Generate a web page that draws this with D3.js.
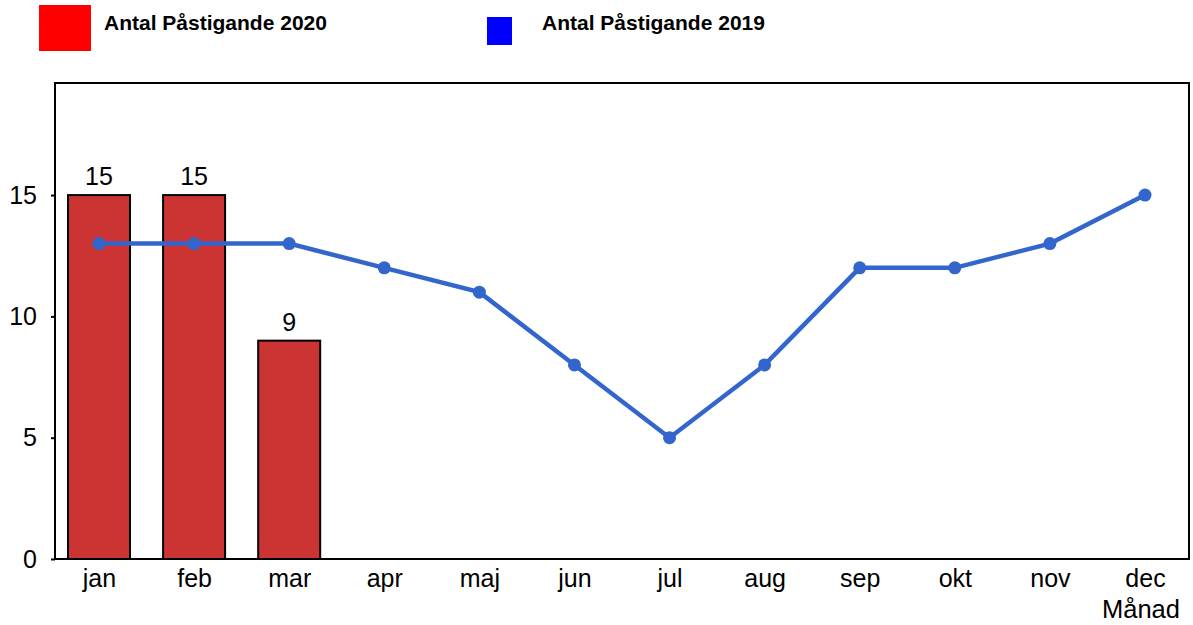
<!DOCTYPE html>
<html>
<head>
<meta charset="utf-8">
<script src="https://cdn.jsdelivr.net/npm/d3@7"></script>
<style>
html,body{margin:0;padding:0;background:#fff;}
svg{display:block;font-family:"Liberation Sans",Arial,sans-serif;}
</style>
</head>
<body>
<svg id="chart" width="1193" height="625"></svg>
<script>
const months = ["jan","feb","mar","apr","maj","jun","jul","aug","sep","okt","nov","dec"];
const values2020 = [15, 15, 9];
const values2019 = [13, 13, 13, 12, 11, 8, 5, 8, 12, 12, 13, 15];
const yTicks = [0, 5, 10, 15];
const seriesNames = ["Antal Påstigande 2020", "Antal Påstigande 2019"];
const xTitle = "Månad";

const svg = d3.select("#chart");
const frame = {left: 55, right: 1189, top: 83, bottom: 559};

const x = d3.scalePoint().domain(months).range([99, 1145]);
const y = d3.scaleLinear().domain([0, 19.62]).range([frame.bottom, frame.top]);
const barW = 62;

// frame
svg.append("rect")
  .attr("x", frame.left).attr("y", frame.top)
  .attr("width", frame.right - frame.left).attr("height", frame.bottom - frame.top)
  .attr("fill", "none").attr("stroke", "#000").attr("stroke-width", 2);

// y axis
const yAxis = d3.axisLeft(y).tickValues(yTicks).tickSize(4).tickPadding(14).tickFormat(d3.format("d"));
const yg = svg.append("g").attr("transform", `translate(${frame.left},0)`).call(yAxis);
yg.select(".domain").remove();
yg.selectAll("line").attr("stroke", "#000").attr("stroke-width", 2);
yg.selectAll("text").attr("font-size", 25).attr("fill", "#000").attr("font-family", '"Liberation Sans",Arial,sans-serif');

// x axis
const xAxis = d3.axisBottom(x).tickSize(0).tickPadding(10);
const xg = svg.append("g").attr("transform", `translate(0,${frame.bottom})`).call(xAxis);
xg.select(".domain").remove();
xg.selectAll("text").attr("font-size", 25).attr("fill", "#000").attr("font-family", '"Liberation Sans",Arial,sans-serif');

// bars
svg.append("g").selectAll("rect").data(values2020).join("rect")
  .attr("x", (d, i) => x(months[i]) - barW / 2)
  .attr("y", d => y(d))
  .attr("width", barW)
  .attr("height", d => y(0) - y(d))
  .attr("fill", "#cc3333").attr("stroke", "#000").attr("stroke-width", 2);

svg.append("g").selectAll("text").data(values2020).join("text")
  .attr("x", (d, i) => x(months[i]))
  .attr("y", d => y(d) - 10)
  .attr("text-anchor", "middle")
  .attr("font-size", 25)
  .attr("fill", "#000")
  .text(d => d);

// line
const line = d3.line().x((d, i) => x(months[i])).y(d => y(d));
svg.append("path").datum(values2019)
  .attr("d", line).attr("fill", "none")
  .attr("stroke", "#3366cc").attr("stroke-width", 4.5);
svg.append("g").selectAll("circle").data(values2019).join("circle")
  .attr("cx", (d, i) => x(months[i])).attr("cy", d => y(d)).attr("r", 6.5)
  .attr("fill", "#3366cc");

// x title
svg.append("text").attr("x", 1180).attr("y", 618).attr("text-anchor", "end")
  .attr("font-size", 25.5).attr("fill", "#000").text(xTitle);

// legend
const legend = [
  {name: seriesNames[0], color: "#ff0000", rx: 39, ry: 5, rw: 52, rh: 46, tx: 104},
  {name: seriesNames[1], color: "#0000ff", rx: 487, ry: 17, rw: 25, rh: 28, tx: 542}
];
const lg = svg.append("g");
legend.forEach(l => {
  lg.append("rect").attr("x", l.rx).attr("y", l.ry).attr("width", l.rw).attr("height", l.rh).attr("fill", l.color);
  lg.append("text").attr("x", l.tx).attr("y", 30).attr("font-size", 21).attr("font-weight", "bold")
    .attr("fill", "#000").text(l.name);
});
</script>
</body>
</html>
